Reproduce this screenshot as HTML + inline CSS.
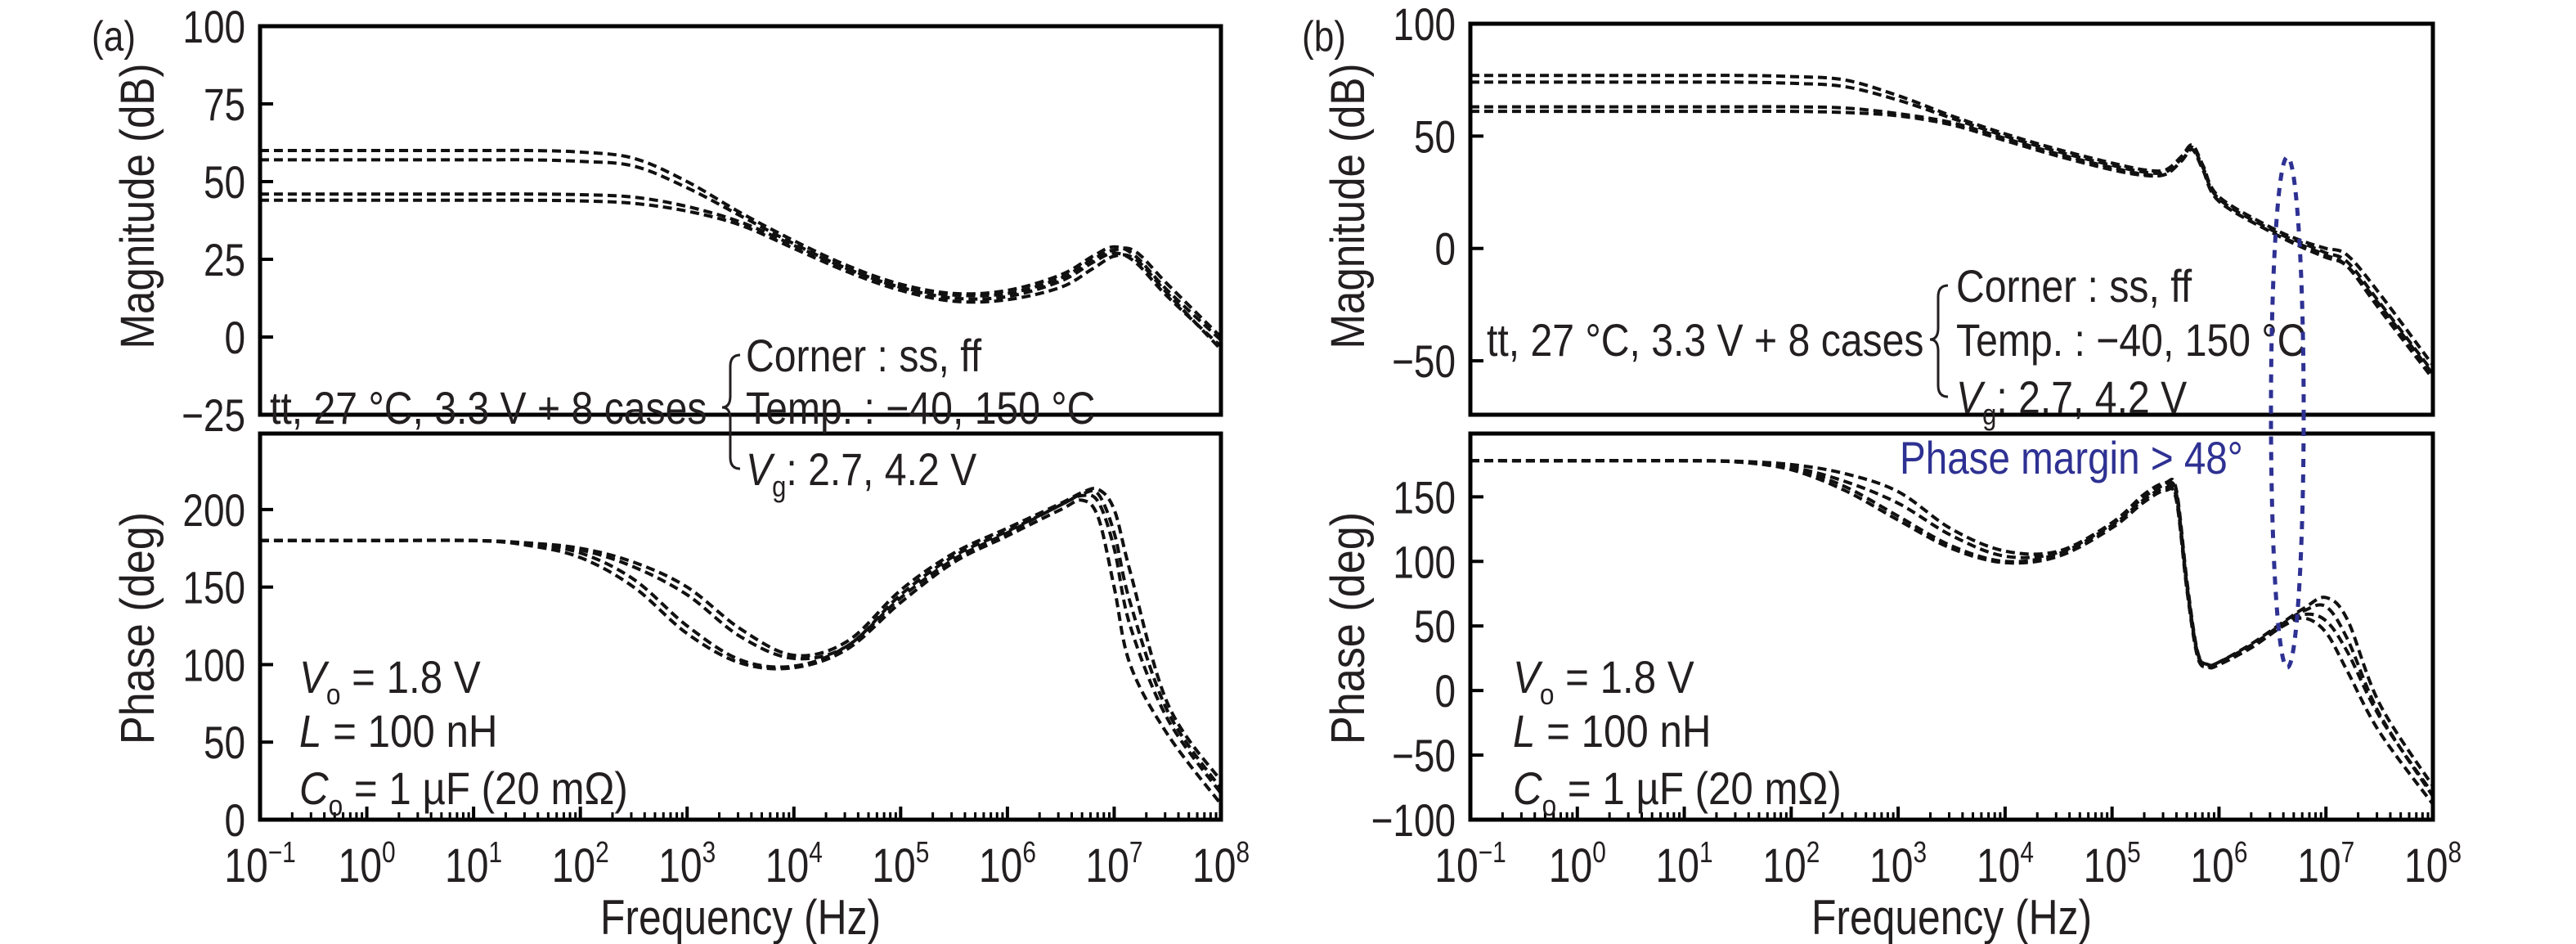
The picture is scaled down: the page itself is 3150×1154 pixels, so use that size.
<!DOCTYPE html>
<html><head><meta charset="utf-8"><style>
html,body{margin:0;padding:0;background:#fff;}
svg{display:block;font-family:"Liberation Sans",sans-serif;}
</style></head><body>
<svg id="fig" width="3150" height="1154" viewBox="0 0 3150 1154" xmlns="http://www.w3.org/2000/svg">
<g id="layer"></g>
</svg>
<script>
// ---- data (log10 frequency) ----
const freqA = [-1,0,1,1.5,2,2.5,3,3.5,4,4.5,5,5.5,6,6.5,6.8,7,7.2,7.5,8];
const magA1 = [57,57,57,57,56.5,55,48,39,30,22,16,12.5,13,18,24,27,24,13,-3];
const magA2 = [60,60,60,60,59.5,57.5,50,40,31,23,17,14,15,20,26,29,26,15,-1];
const magA3 = [46,46,46,46,45.8,45,42,37,29.5,22,16,13.5,14,19,25,28,27.5,17,0];
const magA4 = [44,44,44,44,43.8,43,40.5,36,28.5,21,15,11.5,12,16,22,26,25,14,-4];
const freqAp = [-1,0,1,1.5,2,2.5,3,3.5,4,4.5,5,5.5,6,6.5,6.7,6.85,7,7.15,7.5,8];
const phA1 = [180,180,180,178,172,155,125,103,99,112,143,168,185,203,209,205,175,125,65,17];
const phA2 = [180,180,180,178.5,175,166,150,123,106,115,148,172,188,204,211,213,200,160,75,25];
const phA3 = [180,180,180,177,169,150,120,101,98,110,140,166,183,200,206,195,150,100,55,10];
const phA4 = [180,180,180,178,174,163,145,118,104,112,145,170,186,203,210,210,185,140,70,20];
const freqB = [-1,0,1,1.5,2,2.5,3,3.5,4,4.5,5,5.3,5.5,5.65,5.75,5.85,6,6.5,6.8,7,7.2,7.5,8];
const magB1 = [74,74,74,74,73.5,72,66,58,50,43,37,34,34,40,45,36,22,8,2,-2,-6,-24,-55];
const magB2 = [77,77,77,77,76.5,75,68,59,51,44,38,35,35,41,46,37,23,9,3,0,-3,-20,-52];
const magB3 = [63,63,63,63,63,62.5,60,56,49,42,36,33,33,39,44,35,21,7,1,-3,-8,-27,-58];
const magB4 = [61,61,61,61,61,60.5,59,55,48,41,35,32.5,33,39,44,35,21,7,0,-4,-8,-25,-56];
const freqBp = [-1,0,1,1.5,2,2.5,3,3.5,4,4.5,5,5.3,5.5,5.6,5.7,5.8,5.9,6,6.3,6.6,6.8,7,7.2,7.5,8];
const phB1 = [178,178,178,177,172,158,135,112,100,106,128,148,157,150,80,28,19,21,34,51,59,54,30,-20,-80];
const phB2 = [178,178,178,177.5,175,168,154,125,108,108,130,152,161,156,85,30,20,22,36,53,64,72,55,-10,-74];
const phB3 = [178,178,178,177,171,155,132,110,99,104,126,146,155,148,78,26,18,20,33,50,56,45,15,-32,-88];
const phB4 = [178,178,178,177,173,162,145,120,104,107,129,150,159,153,82,29,20,22,35,52,62,65,40,-18,-82];
const yTicksMagA = [100,75,50,25,0,-25];
const yTicksPhA = [200,150,100,50,0];
const yTicksMagB = [100,50,0,-50];
const yTicksPhB = [150,100,50,0,-50,-100];
const xDecades = [-1,0,1,2,3,4,5,6,7,8];
const xTickLabels = ["\u22121","0","1","2","3","4","5","6","7","8"];

const NS="http://www.w3.org/2000/svg";
const layer=document.getElementById('layer');
function mk(tag,attrs,parent){const e=document.createElementNS(NS,tag);for(const k in attrs)e.setAttribute(k,attrs[k]);(parent||layer).appendChild(e);return e;}
function lin(d0,d1,r0,r1){return v=>r0+(v-d0)/(d1-d0)*(r1-r0);}
function pathD(xs,ys){
  let d="M"+xs[0]+","+ys[0];
  for(let i=0;i<xs.length-1;i++){
    const p0=[xs[Math.max(0,i-1)],ys[Math.max(0,i-1)]],p1=[xs[i],ys[i]],p2=[xs[i+1],ys[i+1]],p3=[xs[Math.min(xs.length-1,i+2)],ys[Math.min(xs.length-1,i+2)]];
    const c1=[p1[0]+(p2[0]-p0[0])/6,p1[1]+(p2[1]-p0[1])/6],c2=[p2[0]-(p3[0]-p1[0])/6,p2[1]-(p3[1]-p1[1])/6];
    d+=" C"+c1[0].toFixed(1)+","+c1[1].toFixed(1)+" "+c2[0].toFixed(1)+","+c2[1].toFixed(1)+" "+p2[0].toFixed(1)+","+p2[1].toFixed(1);
  }
  return d;
}
function ctext(x,y,size,sx,anchor,parent,fill,rot){
  const tr='translate('+x+','+y+')'+(rot?' rotate(-90)':'')+' scale('+sx+',1)';
  return mk('text',{x:0,y:0,transform:tr,'font-size':size,'text-anchor':anchor||'start',fill:fill||'#231f20'},parent);
}
function txt(x,y,s,size,anchor,parent,name,sx,rot){const t=ctext(x,y,size,sx||0.85,anchor,parent,null,rot);t.textContent=s;


return t;}

function panel(id,L,R,magTop,magBot,phTop,phBot,magDom,phDom,magT,phT,freqM,magS,freqP,phS){
  const g=mk('g',{});
  
  
  const x=lin(-1,8,L,R);
  const ym=lin(magDom[0],magDom[1],magBot,magTop);
  const yp=lin(phDom[0],phDom[1],phBot,phTop);
  const clipM='cm'+id,clipP='cp'+id;
  const defs=mk('defs',{},g);
  const c1=mk('clipPath',{id:clipM},defs);mk('rect',{x:L,y:magTop,width:R-L,height:magBot-magTop},c1);
  const c2=mk('clipPath',{id:clipP},defs);mk('rect',{x:L,y:phTop,width:R-L,height:phBot-phTop},c2);
  const gm=mk('g',{'clip-path':'url(#'+clipM+')'},g);
  magS.forEach((s,i)=>{const p=mk('path',{d:pathD(freqM.map(x),s.map(ym)),fill:'none',stroke:'#111','stroke-width':4,'stroke-dasharray':'11 6'},gm);
    
    });
  const gp=mk('g',{'clip-path':'url(#'+clipP+')'},g);
  phS.forEach((s,i)=>{const p=mk('path',{d:pathD(freqP.map(x),s.map(yp)),fill:'none',stroke:'#111','stroke-width':4,'stroke-dasharray':'11 6'},gp);
    
    });
  const f1=mk('rect',{x:L,y:magTop,width:R-L,height:magBot-magTop,fill:'none',stroke:'#000','stroke-width':5},g);
  
  
  const f2=mk('rect',{x:L,y:phTop,width:R-L,height:phBot-phTop,fill:'none',stroke:'#000','stroke-width':5},g);
  
  
  magT.forEach(v=>{const y=ym(v);mk('line',{x1:L,x2:L+16,y1:y,y2:y,stroke:'#000','stroke-width':4},g);
    txt(L-18,y+20,String(v).replace('-','\u2212'),56,'end',g,'magnitude-tick-label',0.82);});
  phT.forEach(v=>{const y=yp(v);mk('line',{x1:L,x2:L+16,y1:y,y2:y,stroke:'#000','stroke-width':4},g);
    txt(L-18,y+20,String(v).replace('-','\u2212'),56,'end',g,'phase-tick-label',0.82);});
  xDecades.forEach((d,i)=>{const xx=x(d);mk('line',{x1:xx,x2:xx,y1:phBot,y2:phBot-16,stroke:'#000','stroke-width':4},g);
    if(d<8){for(let k=2;k<10;k++){const xm=x(d+Math.log10(k));mk('line',{x1:xm,x2:xm,y1:phBot,y2:phBot-9,stroke:'#000','stroke-width':3},g);}}
    const t=ctext(xx,1078,58,0.83,'middle',g);
    
    
    const a=mk('tspan',{},t);a.textContent='10';
    const b=mk('tspan',{'font-size':36,dy:-24},t);b.textContent=xTickLabels[i];
  });
  txt((L+R)/2,1142,'Frequency (Hz)',60,'middle',g,'x-axis-title',0.83);
  txt(L-130,252,'Magnitude (dB)',58,'middle',g,'magnitude-axis-title',0.88,true);
  txt(L-130,768,'Phase (deg)',58,'middle',g,'phase-axis-title',0.9,true);
  return g;
}

panel('a',318,1493,32,507,530,1002,[-25,100],[0,249],yTicksMagA,yTicksPhA,freqA,[magA1,magA2,magA3,magA4],freqAp,[phA1,phA2,phA3,phA4]);
panel('b',1798,2975,29,507,530,1002,[-74,100],[-100,199],yTicksMagB,yTicksPhB,freqB,[magB1,magB2,magB3,magB4],freqBp,[phB1,phB2,phB3,phB4]);

txt(112,62,'(a)',52,'start',null,'panel-a-label',0.85);
txt(1592,62,'(b)',52,'start',null,'panel-b-label',0.85);

function annot(tx,ty,bx,cx,cy1,cy2,cy3){
  txt(tx,ty+20,'tt, 27 \u00b0C, 3.3 V + 8 cases',56,'start',null,'nominal-case-note',0.86);
  const br=mk('path',{d:'M'+(bx+20)+','+(cy1)+' q-12,0 -12,14 v'+(ty-cy1-28)+' q0,14 -10,14 q10,0 10,14 v'+(cy3-ty-28)+' q0,14 12,14',fill:'none',stroke:'#231f20','stroke-width':3});
  
  
  txt(cx,cy1+20,'Corner : ss, ff',56,'start',null,'corner-note',0.86);
  txt(cx,cy2+20,'Temp.  : \u221240, 150 \u00b0C',56,'start',null,'temp-note',0.86);
  const t=ctext(cx,cy3+20,56,0.86,'start');
  
  
  const a=mk('tspan',{'font-style':'italic'},t);a.textContent='V';
  const b=mk('tspan',{'font-size':36,dy:14},t);b.textContent='g';
  const c=mk('tspan',{dy:-14},t);c.textContent=': 2.7, 4.2 V';
}
annot(330,498,885,912,434,498,573);
annot(1818,415,2362,2392,349,415,485);

function params(x){
  const lines=[['V','o',' = 1.8 V',827],['L','',' = 100 nH',893],['C','o',' = 1 \u00b5F (20 m\u03a9)',963]];
  lines.forEach(l=>{const t=ctext(x,l[3]+20,56,0.88,'start');
    
    
    const a=mk('tspan',{'font-style':'italic'},t);a.textContent=l[0];
    if(l[1]){const b=mk('tspan',{'font-size':36,dy:14},t);b.textContent=l[1];const c=mk('tspan',{dy:-14},t);c.textContent=l[2];}
    else{const c=mk('tspan',{},t);c.textContent=l[2];}
  });
}
params(366);
params(1850);

const pm=ctext(2323,579,56,0.85,'start',null,'#2e3192');
pm.textContent='Phase margin > 48\u00b0';


const el=mk('ellipse',{cx:2797,cy:504,rx:20,ry:312,fill:'none',stroke:'#2e3192','stroke-width':5,'stroke-dasharray':'10 9'});


</script>
</body></html>
